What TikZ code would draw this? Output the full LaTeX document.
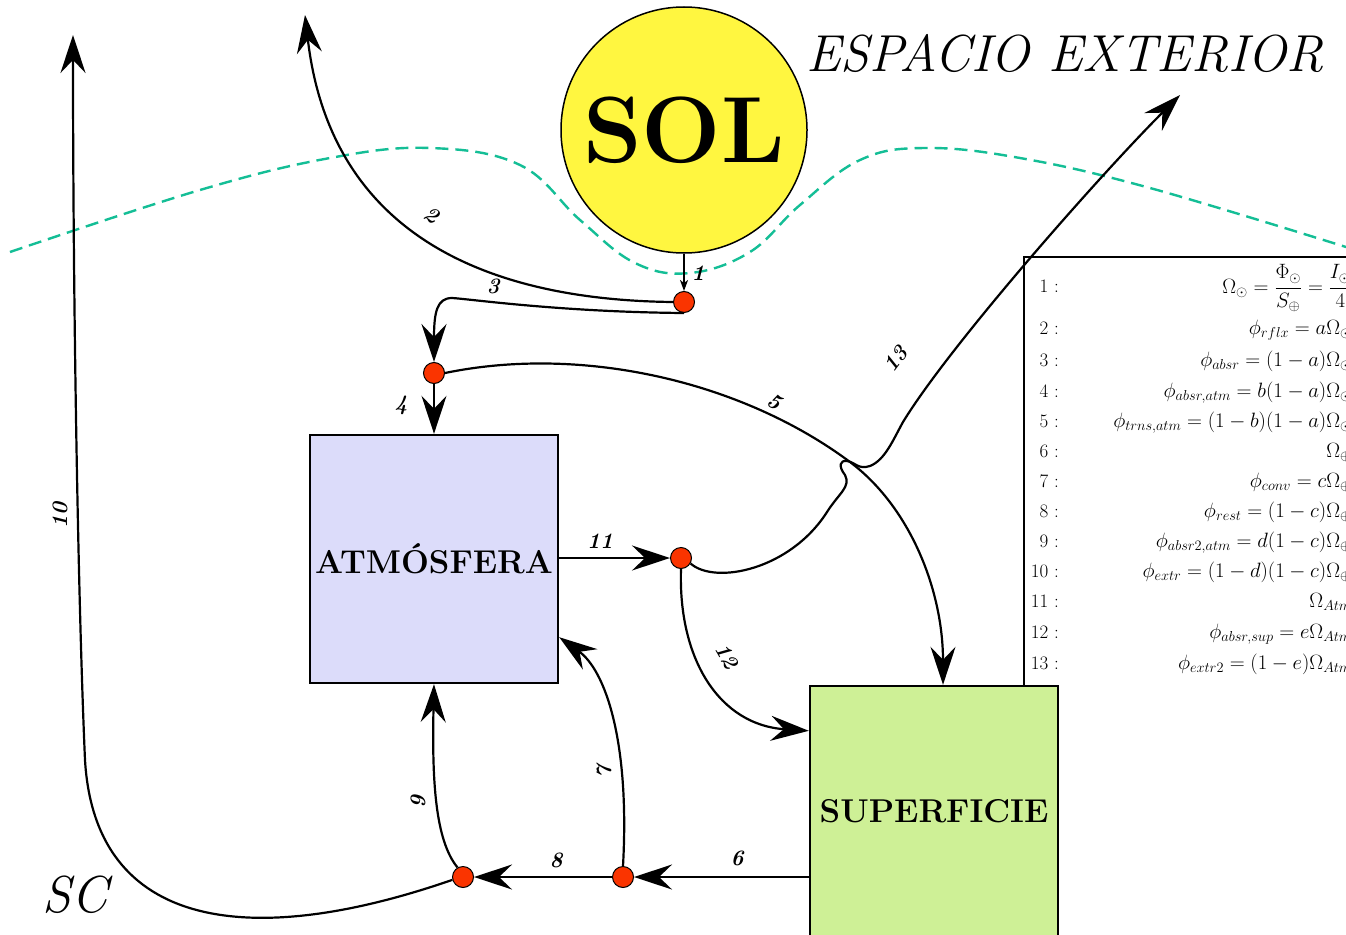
\documentclass[tikz,border=0pt]{standalone}
\usepackage{fontspec}
\usetikzlibrary{arrows.meta}
\definecolor{sunyellow}{RGB}{255,246,64}
\definecolor{atmfill}{RGB}{220,220,250}
\definecolor{supfill}{RGB}{206,240,150}
\definecolor{dotred}{RGB}{250,52,0}
\definecolor{tealdash}{RGB}{20,190,150}
\tikzset{
  arr/.style={line width=2.2pt, -{Stealth[length=38pt,width=25pt,inset=13pt]}},
  thinarr/.style={line width=1.6pt, -{Stealth[length=11pt,width=8pt,inset=3pt]}},
  dot/.style={circle, draw=black, line width=1pt, fill=dotred, minimum size=21pt, inner sep=0pt},
  box/.style={draw=black, line width=2.4pt, minimum width=248pt, minimum height=248pt, inner sep=0pt,
    font=\fontsize{33}{36}\selectfont\bfseries},
  lab/.style={font=\fontsize{22}{22}\selectfont\bfseries\itshape, inner sep=0pt},
  eqn/.style={font=\fontsize{21}{23}\selectfont, inner sep=0pt, anchor=base east},
  eqnum/.style={font=\fontsize{19}{21}\selectfont, inner sep=0pt, anchor=base east},
}
\begin{document}
\begin{tikzpicture}[x=1pt,y=-1pt]
\useasboundingbox (0,0) rectangle (1346,934);
\clip (0,0) rectangle (1346,934);
\fill[white] (0,0) rectangle (1346,934);

% dashed boundary
\draw[tealdash, line width=2.4pt, dash pattern=on 13pt off 7pt]
  plot[smooth, tension=0.65] coordinates {(10,252) (200,190) (330,158) (430,148) (520,165) (580,220) (635,263) (690,273) (750,252) (800,205) (860,160) (925,148) (1020,158) (1150,188) (1346,247)};

% sun
\node[circle, draw=black, line width=1.5pt, fill=sunyellow, minimum size=246pt, inner sep=0pt,
  font=\fontsize{94}{94}\selectfont\bfseries] (sun) at (684,130) {SOL};
\node[font=\fontsize{52}{56}\selectfont\itshape, inner sep=0pt] (esp) at (1065,53) {ESPACIO EXTERIOR};
\node[font=\fontsize{52}{56}\selectfont\itshape, inner sep=0pt] (sc) at (75,895) {SC};

% boxes
\node[box, fill=atmfill] (atm) at (434,559) {ATMÓSFERA};
\node[box, fill=supfill, minimum height=252pt] (sup) at (934,812) {\raisebox{2pt}{SUPERFICIE}};

% equation panel
\draw[line width=1.2pt] (1350,257) -- (1024,257) -- (1024,686);
\node[eqnum] (n1) at (1059,292) {1 :};
\node[eqnum] (n2) at (1059,334) {2 :};
\node[eqnum] (n3) at (1059,366) {3 :};
\node[eqnum] (n4) at (1059,397) {4 :};
\node[eqnum] (n5) at (1059,427) {5 :};
\node[eqnum] (n6) at (1059,457) {6 :};
\node[eqnum] (n7) at (1059,487) {7 :};
\node[eqnum] (n8) at (1059,517) {8 :};
\node[eqnum] (n9) at (1059,547) {9 :};
\node[eqnum] (n10) at (1059,577) {10 :};
\node[eqnum] (n11) at (1059,607) {11 :};
\node[eqnum] (n12) at (1059,638) {12 :};
\node[eqnum] (n13) at (1059,669) {13 :};
\node[eqn] (e1) at (1352,293) {$\displaystyle\Omega_\odot = \frac{\Phi_\odot}{S_\oplus} = \frac{I_\odot}{4}$};
\node[eqn] (e2) at (1352,334) {$\phi_{rflx} = a\Omega_\odot$};
\node[eqn] (e3) at (1352,366) {$\phi_{absr} = (1-a)\Omega_\odot$};
\node[eqn] (e4) at (1352,397) {$\phi_{absr,atm} = b(1-a)\Omega_\odot$};
\node[eqn] (e5) at (1352,427) {$\phi_{trns,atm} = (1-b)(1-a)\Omega_\odot$};
\node[eqn] (e6) at (1352,457) {$\Omega_\oplus$};
\node[eqn] (e7) at (1352,487) {$\phi_{conv} = c\Omega_\oplus$};
\node[eqn] (e8) at (1352,517) {$\phi_{rest} = (1-c)\Omega_\oplus$};
\node[eqn] (e9) at (1352,547) {$\phi_{absr2,atm} = d(1-c)\Omega_\oplus$};
\node[eqn] (e10) at (1352,577) {$\phi_{extr} = (1-d)(1-c)\Omega_\oplus$};
\node[eqn] (e11) at (1352,607) {$\Omega_{Atm}$};
\node[eqn] (e12) at (1352,638) {$\phi_{absr,sup} = e\Omega_{Atm}$};
\node[eqn] (e13) at (1352,669) {$\phi_{extr2} = (1-e)\Omega_{Atm}$};

% junction dots
\node[dot] (d1) at (684,302) {};
\node[dot] (d2) at (434,373) {};
\node[dot] (d3) at (681,558) {};
\node[dot] (d4) at (623,877) {};
\node[dot] (d5) at (463,877) {};

% free ends
\coordinate (top2) at (305,15);
\coordinate (top10) at (73,35);
\coordinate (out13) at (1180,95);

% connectors
\draw[thinarr] (sun.south) -- (d1.north);
\draw[arr] (d1.west) .. controls (480,300) and (330,230) .. (top2);
\draw[arr] (d1.south) .. controls (560,312) and (470,299) .. (452,298) .. controls (437,298) and (434,312) .. (d2.north);
\draw[arr] (d2.south) -- (atm.north);
\draw[arr] (d2.east) .. controls (580,345) and (740,380) .. (850,462) .. controls (910,507) and (943,590) .. ([xshift=9pt]sup.north);
\draw[arr] (sup.west |- d4) -- (d4.east);
\draw[arr] (d4.west) -- (d5.east);
\draw[arr] (d4.north) .. controls (630,740) and (605,670) .. ([yshift=47pt]atm.south east);
\draw[arr] (d5.120) .. controls (435,840) and (432,780) .. (atm.south);
\draw[arr] (d5.195) .. controls (250,950) and (95,930) .. (85,760) .. controls (78,600) and (73,300) .. (top10);
\draw[arr] (atm.east |- d3) -- (d3.west);
\draw[arr] (d3.south) .. controls (678,660) and (720,725) .. ([yshift=-46pt]sup.north west);
\draw[arr] (d3.-30) .. controls (715,585) and (790,570) .. (827,512)
  .. controls (839,493) and (851,487) .. (845,475)
  .. controls (838,466) and (840,460) .. (847,461)
  .. controls (855,462) and (858,470) .. (870,466)
  .. controls (885,460) and (893,440) .. (903,422)
  .. controls (950,345) and (1100,175) .. (out13);

% labels
\node[lab] (l1) at (698,273) {1};
\node[lab, rotate=-33] (l2) at (432,215) {2};
\node[lab] (l3) at (493,286) {3};
\node[lab] (l4) at (401,405) {4};
\node[lab, rotate=-30] (l5) at (775,402) {5};
\node[lab] (l6) at (737,858) {6};
\node[lab, rotate=90] (l7) at (604,772) {7};
\node[lab] (l8) at (556,860) {8};
\node[lab, rotate=90] (l9) at (418,802) {9};
\node[lab, rotate=90] (l10) at (60,515) {10};
\node[lab] (l11) at (600,541) {11};
\node[lab, rotate=-60] (l12) at (727,656) {12};
\node[lab, rotate=53] (l13) at (896,359) {13};
\end{tikzpicture}
\end{document}
